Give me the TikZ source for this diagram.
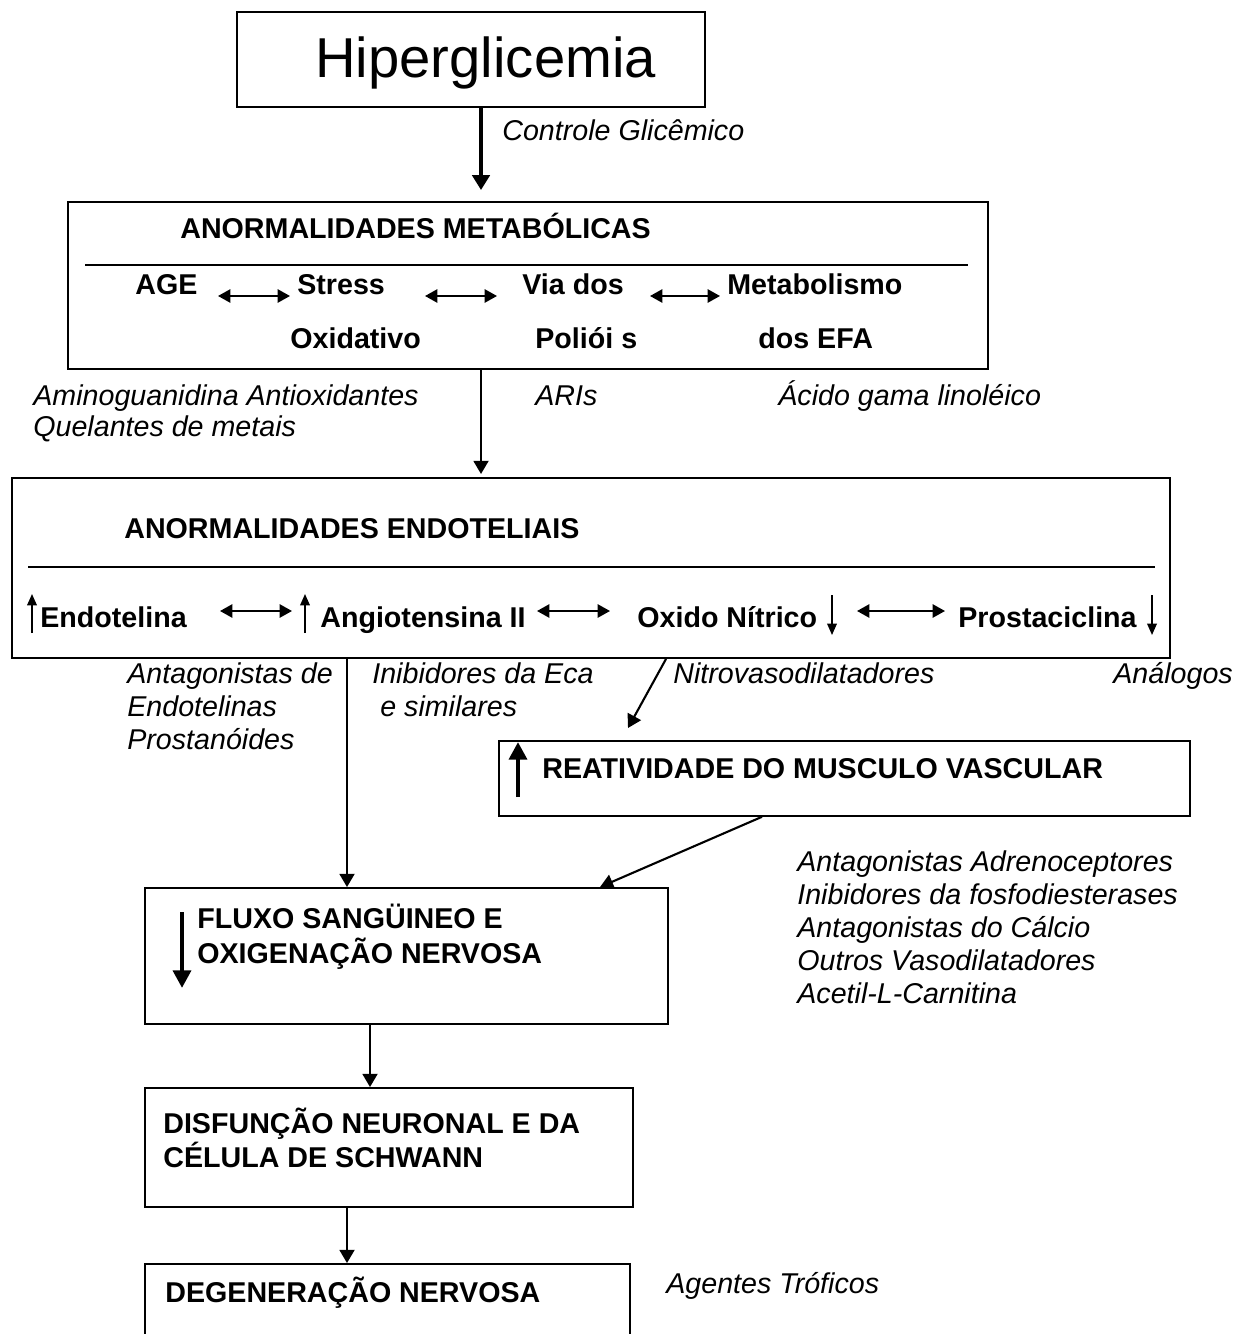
\documentclass[tikz,border=0pt]{standalone}
\usepackage{fontspec}
\setmainfont{Liberation Sans}
\usetikzlibrary{arrows.meta,fit}

\tikzset{
  box/.style={draw, line width=1.1pt, inner sep=0pt},
  lbl/.style={anchor=base west, inner sep=0pt, font=\fontsize{16.3}{19}\selectfont\bfseries},
  note/.style={anchor=base west, inner sep=0pt, font=\fontsize{16.3}{19}\selectfont\itshape},
  bigtxt/.style={anchor=base west, inner sep=0pt, font=\fontsize{32}{38}\selectfont},
  arr/.style={line width=1.2pt, -{Triangle[length=7.5pt,width=8.5pt]}},
  mainarr/.style={line width=1.8pt, -{Triangle[length=8.5pt,width=10pt]}},
  dbl/.style={line width=1.1pt, {Triangle[length=7pt,width=7.5pt]}-{Triangle[length=7pt,width=7.5pt]}},
  small/.style={line width=0.9pt, -{Triangle[length=6.5pt,width=5.5pt]}},
  fat/.style={line width=2.8pt, -{Triangle[length=10pt,width=10pt]}}
}

\begin{document}
\begin{tikzpicture}[x=0.02cm, y=-0.02cm]
  \useasboundingbox (0,0) rectangle (1248,1334);

  % top box
  \node[box, fit={(237,12)(705,107)}] (hip) {};
  \node[bigtxt] (hiptxt) at (315,78) {Hiperglicemia};
  \coordinate (c1) at (481,190);
  \draw[mainarr] (hip.south -| c1) -- (c1);
  \node[note] (ctl) at (502,141) {Controle Glicêmico};

  % metabolic box
  \node[box, fit={(68,202)(988,369)}] (met) {};
  \node[lbl] (mettit) at (180,239) {ANORMALIDADES METABÓLICAS};
  \draw[line width=1pt] (85,265) -- (968,265);
  \node[lbl] (age) at (135,295) {AGE};
  \node[lbl] (stress) at (297,295) {Stress};
  \node[lbl] (oxid) at (290,349) {Oxidativo};
  \node[lbl] (via) at (522,295) {Via dos};
  \node[lbl] (pol) at (535,349) {Poliói s};
  \node[lbl] (metab) at (727,295) {Metabolismo};
  \node[lbl] (efa) at (758,349) {dos EFA};
  \draw[dbl] (218,296) -- (290,296);
  \draw[dbl] (425,296) -- (497,296);
  \draw[dbl] (650,296) -- (720,296);

  \node[note] (amino) at (33,405) {Aminoguanidina Antioxidantes};
  \node[note] (quel) at (33,437) {Quelantes de metais};
  \node[note] (aris) at (535,405) {ARIs};
  \node[note] (acido) at (778,405) {Ácido gama linoléico};
  \coordinate (c2) at (481,474);
  \draw[arr] (met.south -| c2) -- (c2);

  % endothelial box
  \node[box, fit={(12,478)(1170,658)}] (endo) {};
  \node[lbl] (endtit) at (124,538) {ANORMALIDADES ENDOTELIAIS};
  \draw[line width=1pt] (28,567) -- (1155,567);
  \node[lbl] (etl) at (40,627) {Endotelina};
  \node[lbl] (ang) at (320,627) {Angiotensina II};
  \node[lbl] (oxn) at (637,627) {Oxido Nítrico};
  \node[lbl] (pro) at (958,627) {Prostaciclina};
  \draw[small] (32,633) -- (32,594);
  \draw[small] (305,633) -- (305,594);
  \draw[small] (832,595) -- (832,635);
  \draw[small] (1152,595) -- (1152,635);
  \draw[dbl] (220,611) -- (292,611);
  \draw[dbl] (537,611) -- (610,611);
  \draw[dbl] (857,611) -- (945,611);

  \node[note] (antag) at (127,683) {Antagonistas de};
  \node[note] (endts) at (127,716) {Endotelinas};
  \node[note] (prost) at (127,749) {Prostanóides};
  \node[note] (inib) at (372,683) {Inibidores da Eca};
  \node[note] (simil) at (380,716) {e similares};
  \node[note] (nitro) at (673,683) {Nitrovasodilatadores};
  \node[note] (analog) at (1113,683) {Análogos};

  % vascular reactivity box
  \node[box, line width=0.9pt, fit={(499,741)(1190,816)}] (rea) {};
  \draw[fat] (518,797) -- (518,742);
  \node[lbl] (reatxt) at (542,778) {REATIVIDADE DO MUSCULO VASCULAR};
  \coordinate (d0) at (666,0);
  \coordinate (d1) at (628,728);
  \draw[arr] (endo.south -| d0) -- (d1);

  % blood flow box
  \node[box, fit={(145,888)(668,1024)}] (flx) {};
  \draw[fat] (182,912) -- (182,988);
  \node[lbl] (flx1) at (197,928) {FLUXO SANGÜINEO E};
  \node[lbl] (flx2) at (197,963) {OXIGENAÇÃO NERVOSA};
  \coordinate (c3) at (347,0);
  \draw[arr] (endo.south -| c3) -- (flx.north -| c3);
  \coordinate (d2) at (762,0);
  \coordinate (d3) at (600,0);
  \draw[arr] (rea.south -| d2) -- (flx.north -| d3);

  \node[note] (adr) at (797,871) {Antagonistas Adrenoceptores};
  \node[note] (fosf) at (797,904) {Inibidores da fosfodiesterases};
  \node[note] (calc) at (797,937) {Antagonistas do Cálcio};
  \node[note] (vaso) at (797,970) {Outros Vasodilatadores};
  \node[note] (acet) at (797,1003) {Acetil-L-Carnitina};

  % neuronal dysfunction box
  \node[box, fit={(145,1088)(633,1207)}] (dis) {};
  \node[lbl] (dis1) at (163,1133) {DISFUNÇÃO NEURONAL E DA};
  \node[lbl] (dis2) at (163,1167) {CÉLULA DE SCHWANN};
  \coordinate (c4) at (370,0);
  \draw[arr] (flx.south -| c4) -- (dis.north -| c4);

  % degeneration box
  \node[box, fit={(145,1264)(630,1360)}] (deg) {};
  \node[lbl] (degtxt) at (165,1302) {DEGENERAÇÃO NERVOSA};
  \coordinate (c5) at (347,0);
  \draw[arr] (dis.south -| c5) -- (deg.north -| c5);
  \node[note] (trof) at (666,1293) {Agentes Tróficos};
\end{tikzpicture}
\end{document}
